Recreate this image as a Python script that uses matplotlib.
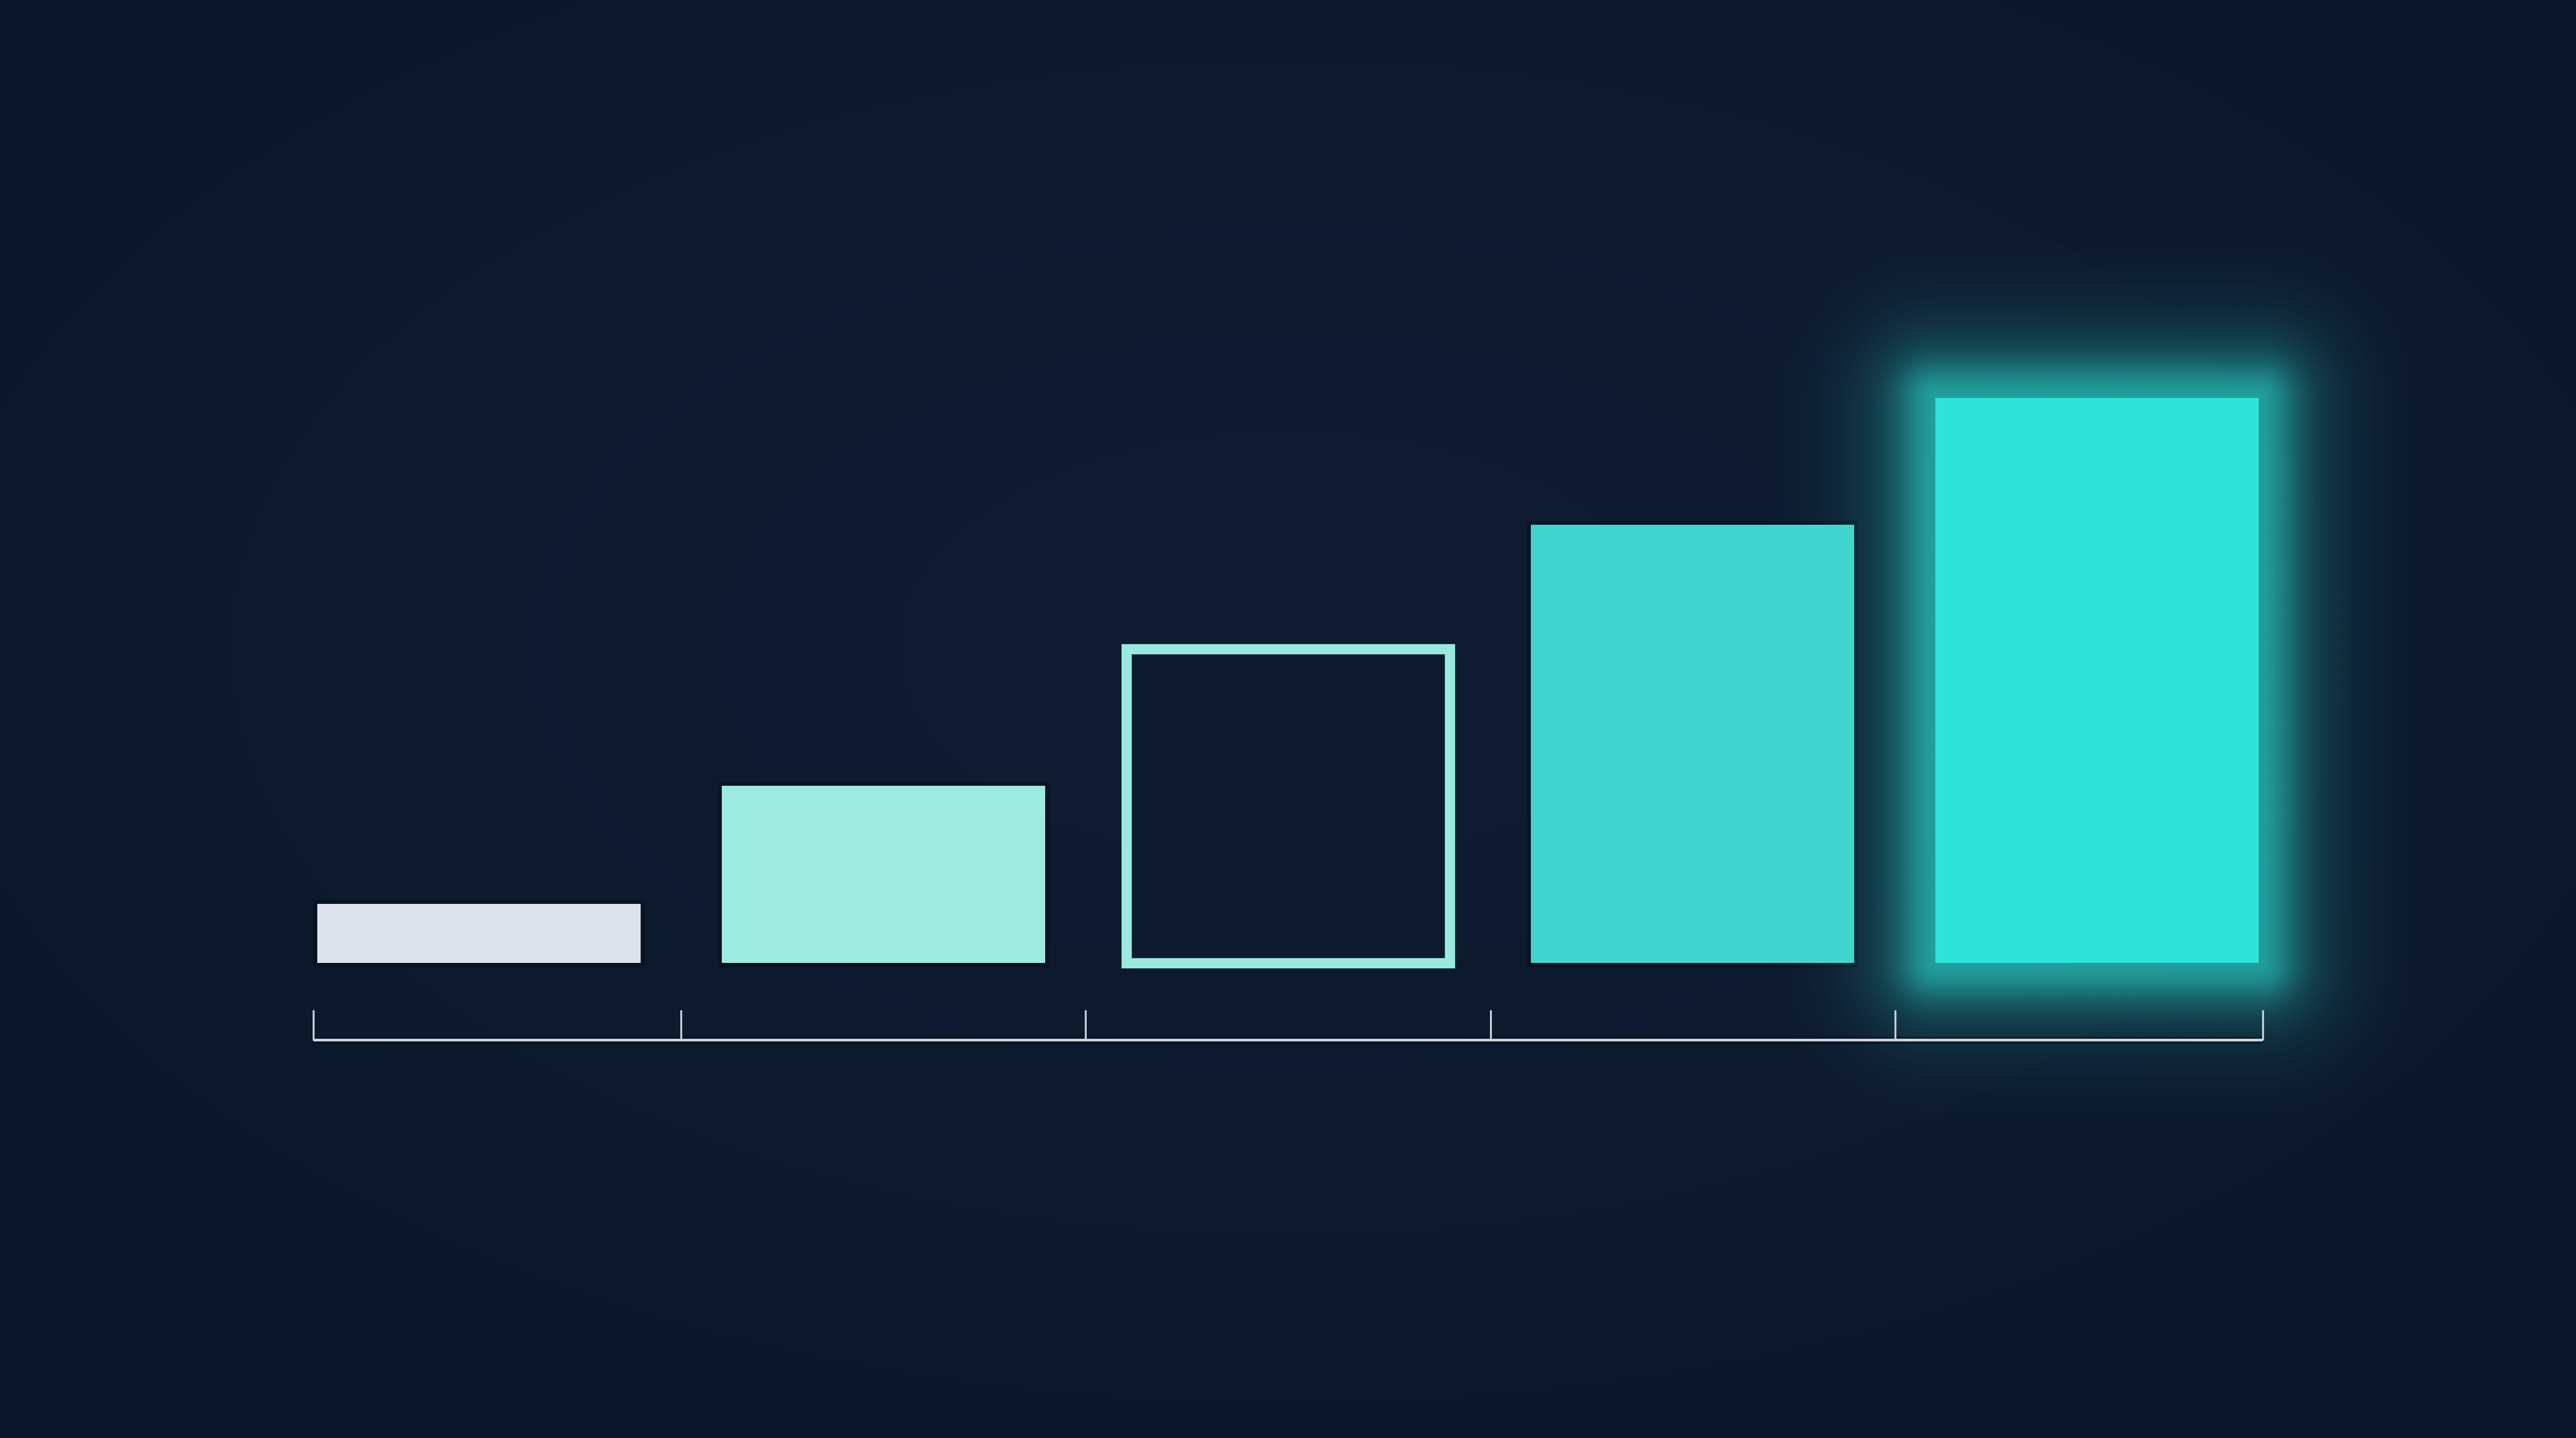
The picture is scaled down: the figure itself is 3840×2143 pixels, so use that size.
import matplotlib
matplotlib.use("Agg")
import matplotlib.pyplot as plt
from matplotlib.colors import LinearSegmentedColormap, to_rgb
import numpy as np

# ---- data ----
categories = ["A", "B", "C", "D", "E"]
values = [10.5, 31.4, 55.6, 77.5, 100.0]
fill_colors = ["#dde3eb", "#9eeae0", "none", "#40d6ce", "#2ee3d7"]
edge_colors = ["none", "none", "#99e9e1", "none", "none"]
glow_index = 4

BG = "#0d1a2e"
AXIS_COLOR = "#cdd3db"

W, H, DPI = 3840, 2143, 100
fig = plt.figure(figsize=(W / DPI, H / DPI), dpi=DPI, facecolor=BG)
ax = fig.add_axes([0, 0, 1, 1])
ax.set_facecolor(BG)

XLIM = (-1.184, 5.184)
YLIM = (-84.09, 170.43)
ax.set_xlim(*XLIM)
ax.set_ylim(*YLIM)

x = np.arange(len(categories))
bar_w = 0.8

# subtle vignette background
yy, xx = np.mgrid[0:1:200j, 0:1:360j]
vig = np.sqrt(((xx - 0.5) / 0.75) ** 2 + ((yy - 0.45) / 0.75) ** 2)
ax.imshow(vig, extent=(*XLIM, *YLIM),
          cmap=LinearSegmentedColormap.from_list("bg", ["#0e1b30", "#0c1729"]),
          vmin=0.2, vmax=0.9, aspect="auto", zorder=0, interpolation="bicubic")

# soft dark shadows around bars
for i, v in enumerate(values):
    if i == glow_index:
        continue
    ax.bar(x[i], v, width=bar_w, color="none", edgecolor="#050a14", linewidth=9,
           alpha=0.4, joinstyle="round", zorder=1)

# gaussian glow for highlighted bar (computed in display pixels)
fig.canvas.draw()
(px0, py0) = ax.transData.transform((x[glow_index] - bar_w / 2, 0))
(px1, py1) = ax.transData.transform((x[glow_index] + bar_w / 2, values[glow_index]))
pad = 360
gx = np.arange(px0 - pad, px1 + pad, 2.0)
gy = np.arange(py0 - pad, py1 + pad, 2.0)
GX, GY = np.meshgrid(gx, gy)
dx = np.maximum(np.maximum(px0 - GX, GX - px1), 0)
dy = np.maximum(np.maximum(py0 - GY, GY - py1), 0)
d = np.sqrt(dx ** 2 + dy ** 2)
alpha = 0.42 * np.exp(-d ** 2 / (2 * 40.0 ** 2)) + 0.24 * np.exp(-d ** 2 / (2 * 95.0 ** 2))
rgba = np.zeros(alpha.shape + (4,))
rgba[..., :3] = to_rgb(fill_colors[glow_index])
rgba[..., 3] = np.clip(alpha, 0, 1)
inv = ax.transData.inverted()
ex0, ey0 = inv.transform((gx[0], gy[0]))
ex1, ey1 = inv.transform((gx[-1], gy[-1]))
ax.imshow(rgba, extent=(ex0, ex1, ey0, ey1), origin="lower", aspect="auto",
          zorder=1.5, interpolation="bilinear")

# bars
for i, v in enumerate(values):
    if fill_colors[i] == "none":
        ax.bar(x[i], v, width=bar_w, color=BG, edgecolor=edge_colors[i],
               linewidth=11, zorder=3)
    else:
        ax.bar(x[i], v, width=bar_w, color=fill_colors[i], edgecolor="none",
               linewidth=0, zorder=3)

# axis line with category ticks
axis_y = -13.66
tick_top = -8.3
bounds = [x[0] - bar_w / 2 - 0.01] + [xi + 0.5 for xi in x[:-1]] + [x[-1] + bar_w / 2 + 0.01]
ax.hlines(axis_y, bounds[0], bounds[-1], color="#060b15", linewidth=8, alpha=0.45, zorder=3.5)
ax.hlines(axis_y, bounds[0], bounds[-1], color=AXIS_COLOR, linewidth=2.9, zorder=4)
ax.vlines(bounds, axis_y, tick_top, color=AXIS_COLOR, linewidth=2.0, zorder=4)

ax.set_xlim(*XLIM)
ax.set_ylim(*YLIM)
ax.axis("off")

fig.savefig("out.png", dpi=DPI, facecolor=BG)
